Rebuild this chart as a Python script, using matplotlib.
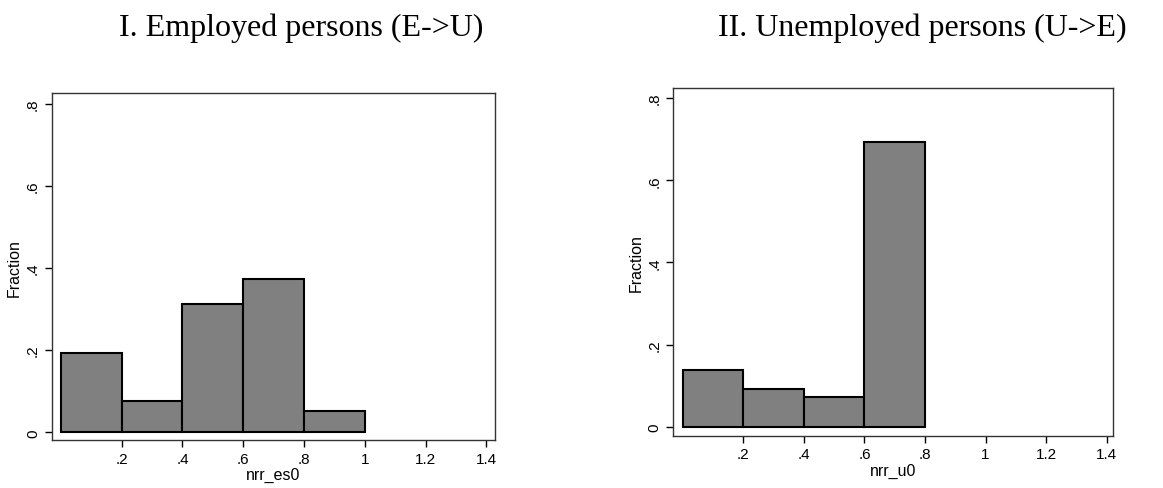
import matplotlib
matplotlib.use("Agg")
import matplotlib.pyplot as plt

# Data
bin_edges_es = [0.0, 0.2, 0.4, 0.6, 0.8, 1.0]
frac_es = [0.192, 0.076, 0.312, 0.373, 0.053]
bin_edges_u = [0.0, 0.2, 0.4, 0.6, 0.8]
frac_u = [0.139, 0.091, 0.071, 0.693]
xticks = [0.2, 0.4, 0.6, 0.8, 1.0, 1.2, 1.4]
xticklabels = [".2", ".4", ".6", ".8", "1", "1.2", "1.4"]
yticks = [0, 0.2, 0.4, 0.6, 0.8]
yticklabels = ["0", ".2", ".4", ".6", ".8"]
titles = ["I. Employed persons (E->U)", "II. Unemployed persons (U->E)"]
xlabels = ["nrr_es0", "nrr_u0"]

plt.rcParams['font.family'] = ['Liberation Sans', 'DejaVu Sans']

fig = plt.figure(figsize=(11.63, 4.89), dpi=100)
ax1 = fig.add_axes([0.0445, 0.0982, 0.3811, 0.709])
ax2 = fig.add_axes([0.579, 0.107, 0.3783, 0.7104])

panels = [(ax1, bin_edges_es, frac_es, (-0.03, 1.428), (-0.0185, 0.825)),
          (ax2, bin_edges_u, frac_u, (-0.031, 1.422), (-0.022, 0.824))]

for i, (ax, edges, vals, xl, yl) in enumerate(panels):
    lefts = edges[:-1]
    widths = [edges[j + 1] - edges[j] for j in range(len(vals))]
    ax.bar(lefts, vals, width=widths, align='edge', color='#808080',
           edgecolor='black', linewidth=1.5)
    ax.set_xlim(*xl)
    ax.set_ylim(*yl)
    ax.set_xticks(xticks)
    ax.set_xticklabels(xticklabels)
    ax.set_yticks(yticks)
    ax.set_yticklabels(yticklabels, rotation=90, va='center')
    ax.tick_params(direction='out', length=5, width=1, labelsize=11, colors='black')
    for s in ax.spines.values():
        s.set_linewidth(1.0)
        s.set_color('#333333')
    ax.set_xlabel(xlabels[i], fontsize=11.5, labelpad=1)
    ax.set_ylabel("Fraction", fontsize=11.5, labelpad=3)

fig.text(119 / 1163, 0.9264, titles[0], ha='left', va='baseline',
         fontsize=23, family=['Liberation Serif', 'DejaVu Serif'])
fig.text(718 / 1163, 0.9264, titles[1], ha='left', va='baseline',
         fontsize=23, family=['Liberation Serif', 'DejaVu Serif'])

fig.savefig("out.png", dpi=100)
